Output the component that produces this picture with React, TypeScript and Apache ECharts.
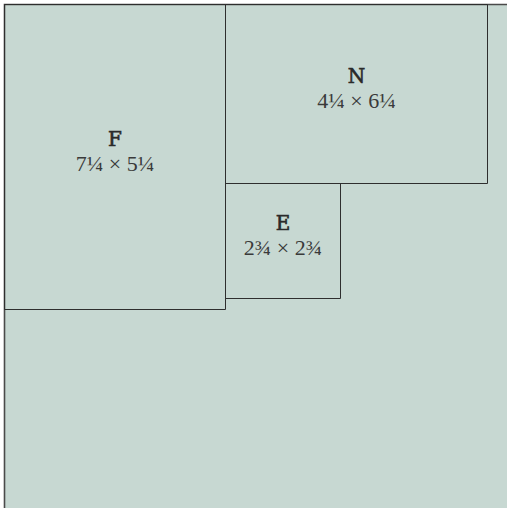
import React, { useEffect, useRef } from "react";
import * as echarts from "echarts";

// Sheet (in inches)
const sheetSize = [13, 13];
// Cut pieces: name, position (inches from top-left), size (inches)
const pieceNames = ["F", "N", "E"];
const pieceX = [0, 5.25, 5.25];
const pieceY = [0, 0, 4.25];
const pieceW = [5.25, 6.25, 2.75];
const pieceH = [7.25, 4.25, 2.75];
const dimLabels = ["7¼ × 5¼", "4¼ × 6¼", "2¾ × 2¾"];

const PX = 42;

export default function App() {
  const ref = useRef<HTMLDivElement>(null);
  useEffect(() => {
    document.body.style.margin = "0";
    const chart = echarts.init(ref.current!, null, { renderer: "svg" });
    const crisp = (v: number) => Math.round(v - 0.5) + 0.5;
    chart.setOption({
      animation: false,
      backgroundColor: "#ffffff",
      grid: {
        left: 4.5,
        top: 4.5,
        width: sheetSize[0] * PX,
        height: sheetSize[1] * PX,
        outerBoundsMode: "none",
        containLabel: false,
      },
      xAxis: { type: "value", min: 0, max: sheetSize[0], show: false },
      yAxis: { type: "value", min: 0, max: sheetSize[1], inverse: true, show: false },
      series: [
        {
          type: "custom",
          silent: true,
          clip: false,
          data: [[0, 0, sheetSize[0], sheetSize[1]]],
          renderItem: (params: any, api: any) => {
            const p0 = api.coord([api.value(0), api.value(1)]);
            const p1 = api.coord([api.value(0) + api.value(2), api.value(1) + api.value(3)]);
            const x0 = crisp(p0[0]), y0 = crisp(p0[1]);
            return {
              type: "rect",
              shape: { x: x0, y: y0, width: crisp(p1[0]) - x0, height: crisp(p1[1]) - y0 },
              style: { fill: "#c7d8d2", stroke: "#4a4a4a", lineWidth: 1.6 },
            };
          },
        },
        {
          type: "custom",
          silent: true,
          clip: false,
          data: pieceNames.map((n, i) => [pieceX[i], pieceY[i], pieceW[i], pieceH[i], i]),
          renderItem: (params: any, api: any) => {
            const i = api.value(4);
            const p0 = api.coord([api.value(0), api.value(1)]);
            const p1 = api.coord([api.value(0) + api.value(2), api.value(1) + api.value(3)]);
            const x0 = crisp(p0[0]), y0 = crisp(p0[1]);
            const x1 = crisp(p1[0]), y1 = crisp(p1[1]);
            const cx = (x0 + x1) / 2, cy = (y0 + y1) / 2;
            return {
              type: "group",
              children: [
                {
                  type: "rect",
                  shape: { x: x0, y: y0, width: x1 - x0, height: y1 - y0 },
                  style: { fill: "rgba(0,0,0,0)", stroke: "#2e2e2e", lineWidth: 1 },
                },
                {
                  type: "text",
                  x: cx,
                  y: cy - 18,
                  style: {
                    text: pieceNames[i],
                    fontFamily: "DejaVu Serif",
                    fontWeight: "normal",
                    fontSize: 20,
                    fill: "#2a2a2a",
                    stroke: "#2a2a2a",
                    lineWidth: 0.6,
                    align: "center",
                    verticalAlign: "middle",
                  },
                },
                {
                  type: "text",
                  x: cx,
                  y: cy + 6,
                  style: {
                    text: dimLabels[i],
                    fontFamily: "Liberation Serif",
                    fontSize: 22,
                    fill: "#3a3a3a",
                    align: "center",
                    verticalAlign: "middle",
                  },
                },
              ],
            };
          },
        },
      ],
    });
    return () => chart.dispose();
  }, []);
  return <div ref={ref} style={{ width: 507, height: 508, overflow: "hidden" }} />;
}
